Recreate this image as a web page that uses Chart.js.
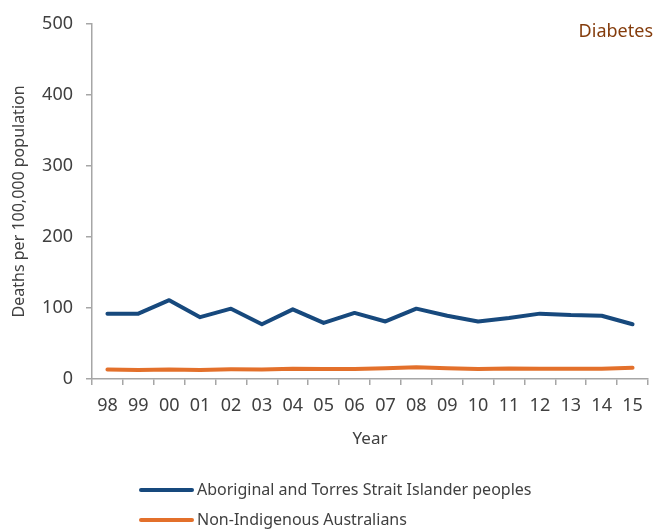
<!DOCTYPE html>
<html>
<head>
<meta charset="utf-8">
<script src="https://cdn.jsdelivr.net/npm/chart.js@4/dist/chart.umd.min.js"></script>
<style>
  html, body { margin: 0; padding: 0; background: #fff; }
  #wrap { width: 653px; height: 532px; position: relative; }
</style>
</head>
<body>
<div id="wrap"><canvas id="c" width="653" height="532"></canvas></div>
<script>
const years = ['98','99','00','01','02','03','04','05','06','07','08','09','10','11','12','13','14','15'];
const indigenous = [92, 92, 111, 87, 99, 77, 98, 79, 93, 81, 99, 89, 81, 86, 92, 90, 89, 77];
const nonIndigenous = [13.5, 12.8, 13.5, 12.8, 13.6, 13.5, 14.4, 14, 14, 15, 16.4, 15.2, 14, 14.8, 14.6, 14.5, 14.5, 15.8];
const yTicks = [0, 100, 200, 300, 400, 500];
const seriesNames = ['Aboriginal and Torres Strait Islander peoples', 'Non-Indigenous Australians'];
const panelTitle = 'Diabetes';

const FONT = 'Noto Sans';
const TXT = '#404040';
const AXIS = '#a6a6a6';

const extras = {
  id: 'extras',
  afterDraw(chart) {
    const ctx = chart.ctx;
    ctx.save();
    // panel title
    ctx.font = '18px "' + FONT + '"';
    ctx.fillStyle = '#843c0c';
    ctx.textAlign = 'right';
    ctx.textBaseline = 'middle';
    ctx.fillText(panelTitle, 653, 32);
    // legend
    const ys = [490, 520];
    chart.data.datasets.forEach((ds, i) => {
      ctx.beginPath();
      ctx.strokeStyle = ds.borderColor;
      ctx.lineWidth = 4;
      ctx.lineCap = 'round';
      ctx.moveTo(141, ys[i]);
      ctx.lineTo(192, ys[i]);
      ctx.stroke();
      ctx.fillStyle = TXT;
      ctx.textAlign = 'left';
      ctx.textBaseline = 'middle';
      ctx.font = '16px "' + FONT + '"';
      ctx.fillText(ds.label, 197, ys[i]);
    });
    ctx.restore();
  }
};

new Chart(document.getElementById('c'), {
  type: 'line',
  data: {
    labels: years,
    datasets: [
      { label: seriesNames[0], data: indigenous, borderColor: '#17497d', backgroundColor: '#17497d',
        borderWidth: 4, pointRadius: 0, tension: 0, borderCapStyle: 'round', borderJoinStyle: 'round' },
      { label: seriesNames[1], data: nonIndigenous, borderColor: '#e3702b', backgroundColor: '#e3702b',
        borderWidth: 4, pointRadius: 0, tension: 0, borderCapStyle: 'round', borderJoinStyle: 'round' }
    ]
  },
  options: {
    responsive: false,
    animation: false,
    devicePixelRatio: 1,
    layout: { padding: { left: 0, right: 5, top: 22, bottom: 83 } },
    plugins: { legend: { display: false }, tooltip: { enabled: false } },
    scales: {
      x: {
        type: 'category',
        offset: true,
        grid: { offset: true, drawOnChartArea: false, drawTicks: true, tickLength: 6, color: AXIS, lineWidth: 1.5 },
        border: { display: true, color: AXIS, width: 1.5 },
        ticks: { color: TXT, font: { family: FONT, size: 18 }, padding: 10, maxRotation: 0, autoSkip: false },
        title: { display: true, text: 'Year', color: TXT, font: { family: FONT, size: 17 }, padding: { top: 0, bottom: 0 } },
        afterFit(s) { s.height = 70; }
      },
      y: {
        min: 0, max: 500,
        afterBuildTicks(s) { s.ticks = yTicks.map(v => ({ value: v })); },
        grid: { drawOnChartArea: false, drawTicks: true, tickLength: 6, color: AXIS, lineWidth: 1.5 },
        border: { display: true, color: AXIS, width: 1.5 },
        ticks: { color: TXT, font: { family: FONT, size: 18 }, padding: 13 },
        title: { display: true, text: 'Deaths per 100,000 population', color: TXT, font: { family: FONT, size: 16 }, padding: { top: 10, bottom: 0 } },
        afterFit(s) { s.width = 92; }
      }
    }
  },
  plugins: [extras]
});
</script>
</body>
</html>
